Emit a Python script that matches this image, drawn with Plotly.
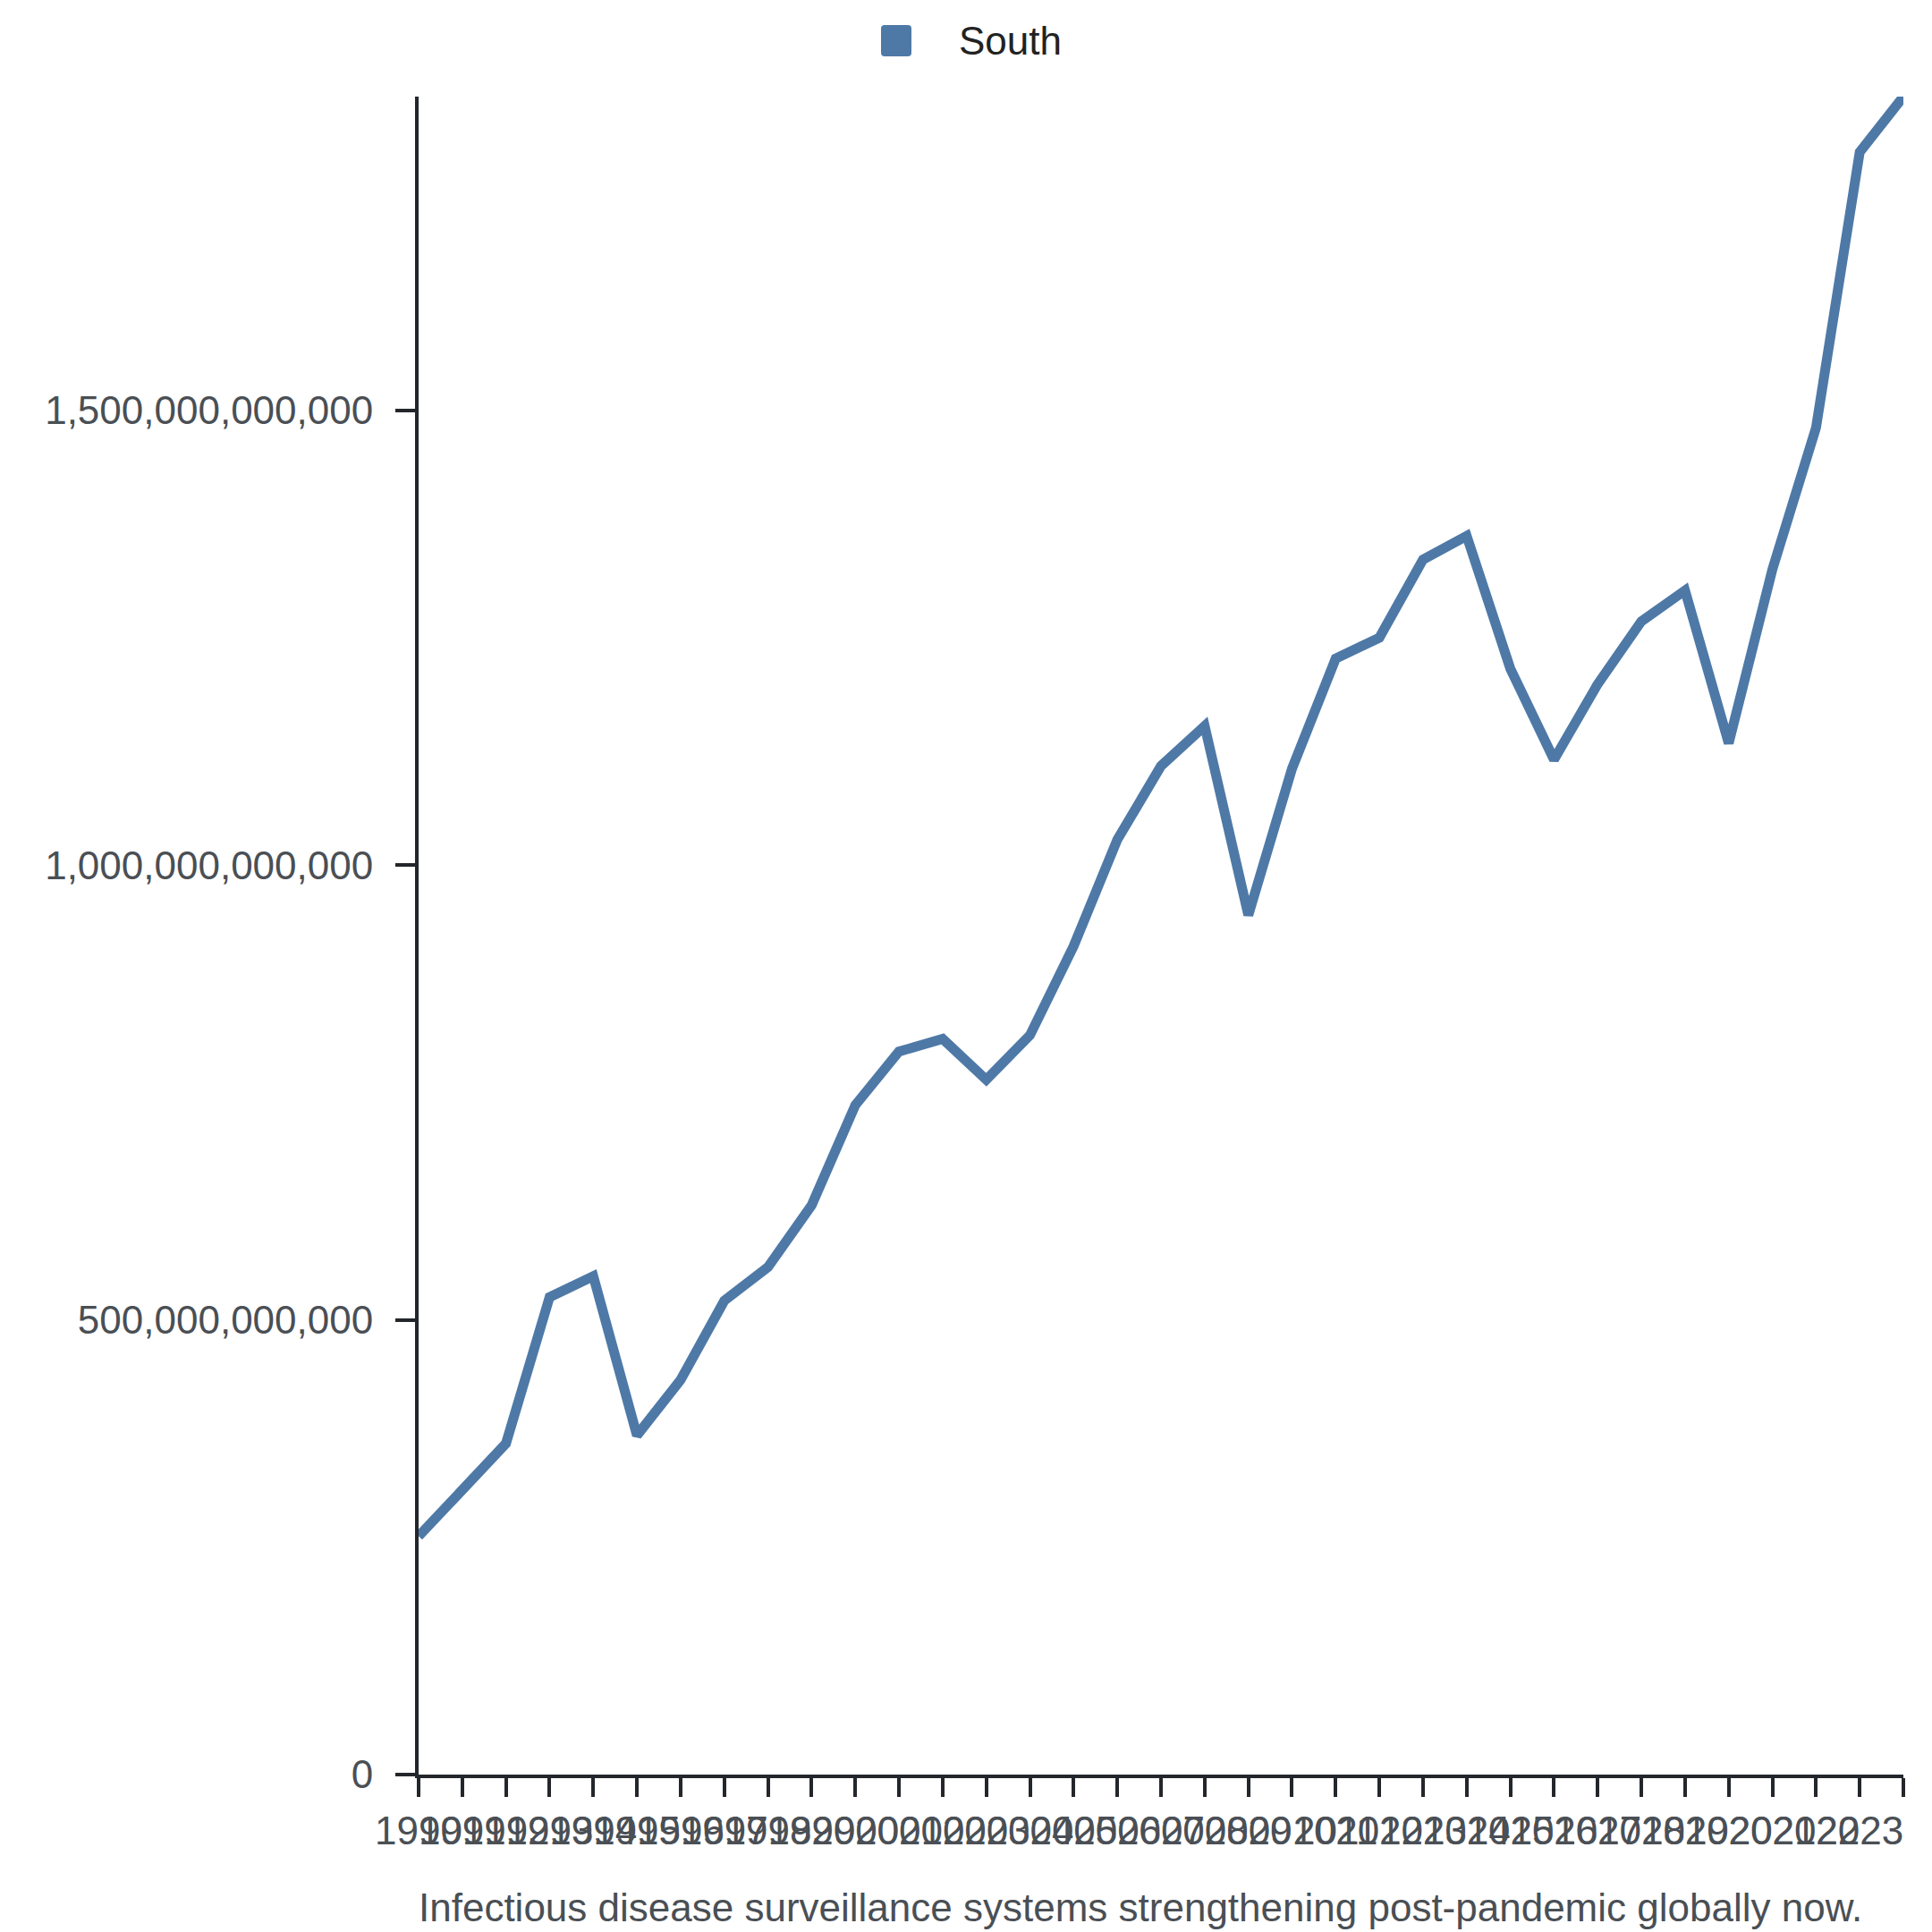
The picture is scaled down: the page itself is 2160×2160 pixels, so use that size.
import plotly.graph_objects as go

years = list(range(1990, 2025))
south = [262e9, 314e9, 364e9, 525e9, 548e9, 373e9, 434e9, 521e9, 558e9, 626e9,
         736e9, 795e9, 809e9, 764e9, 813e9, 911e9, 1028e9, 1109e9, 1153e9, 945e9,
         1106e9, 1227e9, 1250e9, 1336e9, 1362e9, 1216e9, 1116e9, 1199e9, 1268e9, 1302e9,
         1134e9, 1325e9, 1481e9, 1784e9, 1845e9]
y_ticks = [0, 500e9, 1000e9, 1500e9]
series_name = "South"
caption = "Infectious disease surveillance systems strengthening post-pandemic globally now."

color = "#4e79a7"
font_family = "Liberation Sans, Arial, sans-serif"

fig = go.Figure()
fig.add_trace(go.Scatter(x=years, y=south, mode="lines", name=series_name,
                         line=dict(color=color, width=11), showlegend=False))

# legend swatch (rounded square) and legend label
r = 4
x0, x1, y0, y1 = 977, 1011, 20, 55
path = (f"M{x0+r},{y0} L{x1-r},{y0} Q{x1},{y0} {x1},{y0+r} L{x1},{y1-r} Q{x1},{y1} {x1-r},{y1} "
        f"L{x0+r},{y1} Q{x0},{y1} {x0},{y1-r} L{x0},{y0+r} Q{x0},{y0} {x0+r},{y0} Z")
W, H = 2160, 2160
# convert pixel path to paper coordinates is not possible for paths; use shape with pixel sizing
fig.add_shape(type="path", xref="paper", yref="paper", xsizemode="pixel", ysizemode="pixel",
              xanchor=0, yanchor=1,
              path=(f"M{x0+r-460},{-(y0-100)} L{x1-r-460},{-(y0-100)} Q{x1-460},{-(y0-100)} {x1-460},{-(y0+r-100)} "
                    f"L{x1-460},{-(y1-r-100)} Q{x1-460},{-(y1-100)} {x1-r-460},{-(y1-100)} "
                    f"L{x0+r-460},{-(y1-100)} Q{x0-460},{-(y1-100)} {x0-460},{-(y1-r-100)} "
                    f"L{x0-460},{-(y0+r-100)} Q{x0-460},{-(y0-100)} {x0+r-460},{-(y0-100)} Z"),
              fillcolor=color, line=dict(width=0), layer="above")
fig.add_annotation(text=series_name, xref="paper", yref="paper",
                   x=(1062 - 460) / 1660, y=1 + (100 - 37) / 1876,
                   xanchor="left", yanchor="middle", showarrow=False,
                   font=dict(size=44, color="#222"))
fig.add_annotation(text=caption, xref="paper", yref="paper",
                   x=(1267 - 460) / 1660, y=-(2124 - 1976) / 1876,
                   xanchor="center", yanchor="middle", showarrow=False,
                   font=dict(size=44, color="#4a4f55"))

fig.update_layout(
    width=W, height=H,
    paper_bgcolor="white", plot_bgcolor="white",
    margin=dict(l=460, r=40, t=100, b=184, autoexpand=False),
    font=dict(family=font_family, size=44, color="#4a4f55"),
    showlegend=False,
    xaxis=dict(range=[years[0], years[-1]], tickmode="array", tickvals=years,
               ticktext=[str(y) for y in years], tickangle=0,
               showgrid=False, zeroline=False, showline=True, linecolor="#23272b",
               linewidth=4, ticks="outside", ticklen=21, tickwidth=4, tickcolor="#23272b",
               tickfont=dict(size=44, color="#4a4f55"), automargin=False),
    yaxis=dict(range=[0, max(south)], tickmode="array", tickvals=y_ticks,
               tickformat=",.0f", showgrid=False, zeroline=False, showline=True,
               linecolor="#23272b", linewidth=4, ticks="outside", ticklen=22, tickwidth=4,
               tickcolor="#23272b", tickfont=dict(size=44, color="#4a4f55"),
               ticklabelstandoff=16, automargin=False),
)

fig.write_html("out.html")
